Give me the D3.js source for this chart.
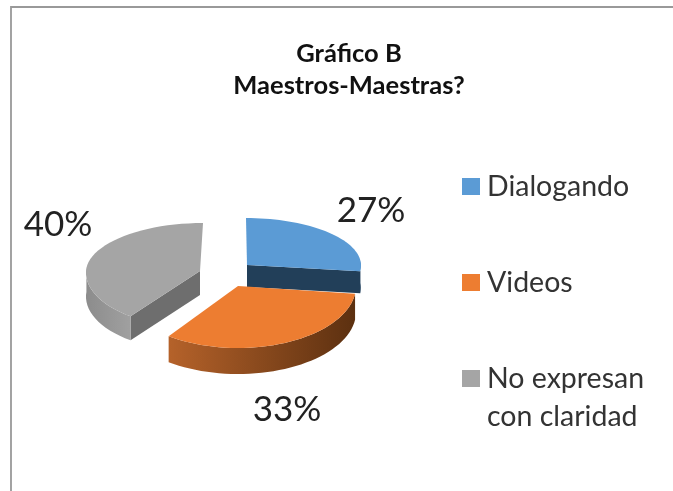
<!DOCTYPE html>
<html><head><meta charset="utf-8">
<script src="https://cdnjs.cloudflare.com/ajax/libs/d3/7.8.5/d3.min.js"></script>
<style>html,body{margin:0;padding:0;background:#fff}svg{display:block;filter:blur(0.45px)}text{font-family:Lato,"Open Sans",sans-serif}</style>
</head><body><svg id="c" width="673" height="491"></svg>
<script>
const categories=["Dialogando","Videos","No expresan con claridad"];
const values=[27,33,40];
const labels=["27%","33%","40%"];
const titleLines=["Gráfico B","Maestros-Maestras?"];
const topColors=["#5b9bd5","#ed7d31","#a5a5a5"];
const wallColors=["#223f59","#5c3212","#6e6e6e"];
const sideStops=[["#2a4a68","#223f59"],["#b5622a","#5c3010"],["#8c8c8c","#a0a0a0"]];
const wallSide=["endAngle",null,"startAngle"];
const centers=[[247,265],[238,286],[200,271]];
const radii=[[114,47,50],[118,62,62],[114,48,56]];
const shear=[-1,0,3];
const depths=[22,26,24];
const labelPos=[[371,222],[287,421],[58,236]];
const legendRows=[[462,178,196,["Dialogando"]],[462,274,292,["Videos"]],[462,370,388,["No expresan","con claridad"]]];

const svg=d3.select("#c");
const defs=svg.append("defs");
svg.append("path").attr("d","M11,491V7H673").attr("fill","none").attr("stroke","#999").attr("stroke-width",1.8);

const tl=svg.append("text").attr("text-anchor","middle").attr("font-weight",700).attr("font-size",25.5).attr("fill","#111");
titleLines.forEach((t,i)=>tl.append("tspan").attr("x",349).attr("y",62+i*32).text(t));

const arcs=d3.pie().sort(null)(values);
const pt=(i,a,dy=0)=>{const [cx,cy]=centers[i],[rx,up,dn]=radii[i],c=Math.cos(a);
  return [cx+rx*Math.sin(a)+shear[i]*c,cy-(c>=0?up:dn)*c+dy];};
const line=d3.line();
const samples=(a,b)=>d3.range(0,41).map(k=>a+(b-a)*k/40);

// back to front: grey, blue, orange
[2,0,1].forEach(i=>{
  const d=arcs[i],g=svg.append("g"),depth=depths[i];
  const A=samples(d.startAngle,d.endAngle);
  const [cx,cy]=centers[i];
  if(wallSide[i]){
    const p=pt(i,d[wallSide[i]]);
    g.append("path").attr("d",line([[cx,cy],p,[p[0],p[1]+depth],[cx,cy+depth]])+"Z").attr("fill",wallColors[i]);
  }
  const vis=A.filter(a=>Math.cos(a)<=0.12);
  if(vis.length){
    const id="s"+i,lg=defs.append("linearGradient").attr("id",id).attr("gradientUnits","userSpaceOnUse");
    const x0=d3.min(vis,a=>pt(i,a)[0]),x1=d3.max(vis,a=>pt(i,a)[0]);
    lg.attr("x1",x0).attr("x2",x1).attr("y1",0).attr("y2",0);
    lg.append("stop").attr("offset",0).attr("stop-color",sideStops[i][0]);
    lg.append("stop").attr("offset",1).attr("stop-color",sideStops[i][1]);
    const outer=vis.map(a=>pt(i,a)).concat(vis.slice().reverse().map(a=>pt(i,a,depth)));
    g.append("path").attr("d",line(outer)+"Z").attr("fill",`url(#${id})`);
  }
  g.append("path").attr("d",line([[cx,cy],...A.map(a=>pt(i,a))])+"Z").attr("fill",topColors[i]);
});

labels.forEach((t,i)=>svg.append("text").attr("x",labelPos[i][0]).attr("y",labelPos[i][1])
  .attr("text-anchor","middle").attr("font-size",35).attr("fill","#222").text(t));

legendRows.forEach((r,i)=>{
  svg.append("rect").attr("x",r[0]).attr("y",r[1]).attr("width",18).attr("height",17).attr("fill",topColors[i]);
  const t=svg.append("text").attr("font-size",28.5).attr("fill","#333");
  r[3].forEach((s,k)=>t.append("tspan").attr("x",r[0]+25).attr("y",r[2]+k*38).text(s));
});
</script></body></html>
